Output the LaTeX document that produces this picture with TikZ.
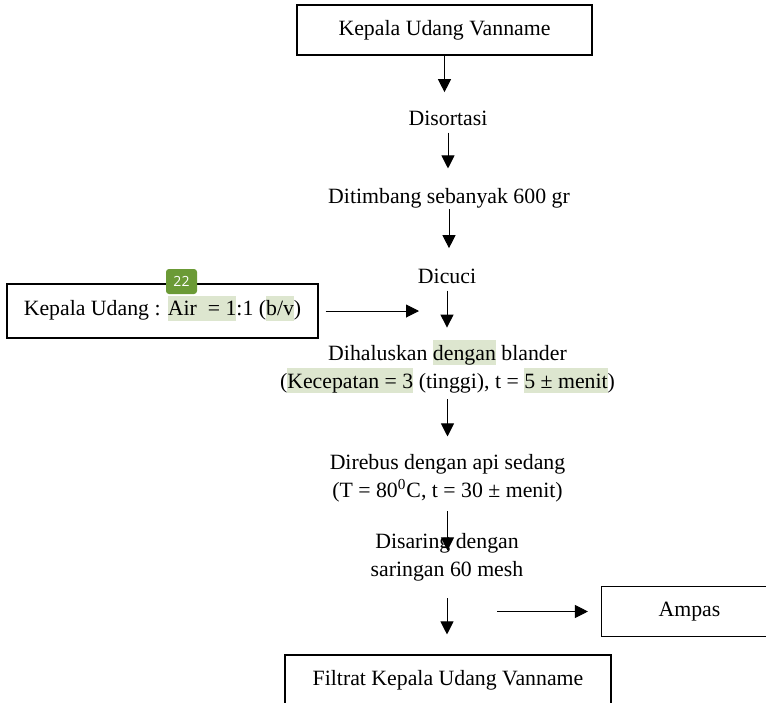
\documentclass[tikz,border=0pt]{standalone}
\usepackage{fontspec}
\setmainfont{Liberation Serif}
\newfontfamily\badgefont{Open Sans}
\usetikzlibrary{arrows.meta}
\definecolor{hlgreen}{HTML}{DDE6CF}
\definecolor{badgegreen}{HTML}{6B9A36}
\newcommand{\hl}[1]{{\setlength{\fboxsep}{0pt}\colorbox{hlgreen}{\rule[-2.5pt]{0pt}{12.5pt}#1}}}
\begin{document}
\begin{tikzpicture}[x=0.5pt,y=-0.5pt,
  every node/.style={font=\fontsize{10.9}{14}\selectfont},
  box/.style={draw,line width=0.55pt,inner sep=0pt},
  stepnode/.style={inner sep=0pt,align=center,anchor=base},
  arr/.style={line width=0.5pt,-{Triangle[length=6.5pt,width=6.5pt]}}]
\clip (0,0) rectangle (766,702);
\fill[white] (0,0) rectangle (766,702);
\node[box,minimum width=147.5pt,minimum height=25pt] (kepala) at (444.5,30) {Kepala Udang Vanname};
\node[stepnode] (sortasi) at (448,125) {Disortasi};
\node[stepnode] (timbang) at (449,203) {Ditimbang sebanyak 600 gr};
\node[stepnode] (cuci) at (447,283) {Dicuci};
\node[stepnode] (halus) at (447.5,388) {Dihaluskan \hl{dengan} blander\\(\hl{Kecepatan = 3} (tinggi), t = \hl{5 ± menit})};
\node[stepnode] (rebus) at (447.5,497) {Direbus dengan api sedang\\(T = 80\textsuperscript{0}C, t = 30 ± menit)};
\node[stepnode] (saring) at (447,576) {Disaring dengan\\saringan 60 mesh};
\node[box,minimum width=163pt,minimum height=25pt] (filtrat) at (448,680) {Filtrat Kepala Udang Vanname};
\node[box,minimum width=155.5pt,minimum height=27pt] (rasio) at (162.5,311) {Kepala Udang : \hl{Air\ \ = 1}:1 (\hl{b/v})\rule[-5.5pt]{0pt}{0pt}};
\node[box,minimum width=88pt,minimum height=25pt] (ampas) at (689.5,611.5) {Ampas};
\node[fill=badgegreen,text=white,rounded corners=1.5pt,minimum width=15.5pt,minimum height=12.5pt,inner sep=0pt,font=\badgefont\fontsize{7}{8}\selectfont] (badge) at (181.5,281.5) {22};
\coordinate (campur) at (419,311);
\coordinate (sisa) at (497,611.5);
% alur utama
\draw[arr,shorten >=9pt] (kepala.south) -- (kepala.south |- sortasi.north);
\draw[arr,shorten <=3.5pt,shorten >=9.5pt] (sortasi.south) -- (sortasi.south |- timbang.north);
\draw[arr,shorten <=0.5pt,shorten >=10pt] (timbang.south) -- (timbang.south |- cuci.north);
\draw[arr,shorten <=3.5pt,shorten >=6pt] (cuci.south) -- (cuci.south |- halus.north);
\draw[arr,shorten <=3pt,shorten >=8.5pt] (halus.south) -- (halus.south |- rebus.north);
\draw[arr,shorten <=4.5pt,shorten >=-9pt] (rebus.south) -- (rebus.south |- saring.north);
\draw[arr,shorten <=8.5pt,shorten >=10pt] (saring.south) -- (saring.south |- filtrat.north);
% masuk dan keluar
\draw[arr,shorten <=3.5pt] (rasio.east |- campur) -- (campur);
\draw[arr,shorten >=6.5pt] (sisa) -- (sisa -| ampas.west);
\end{tikzpicture}
\end{document}
